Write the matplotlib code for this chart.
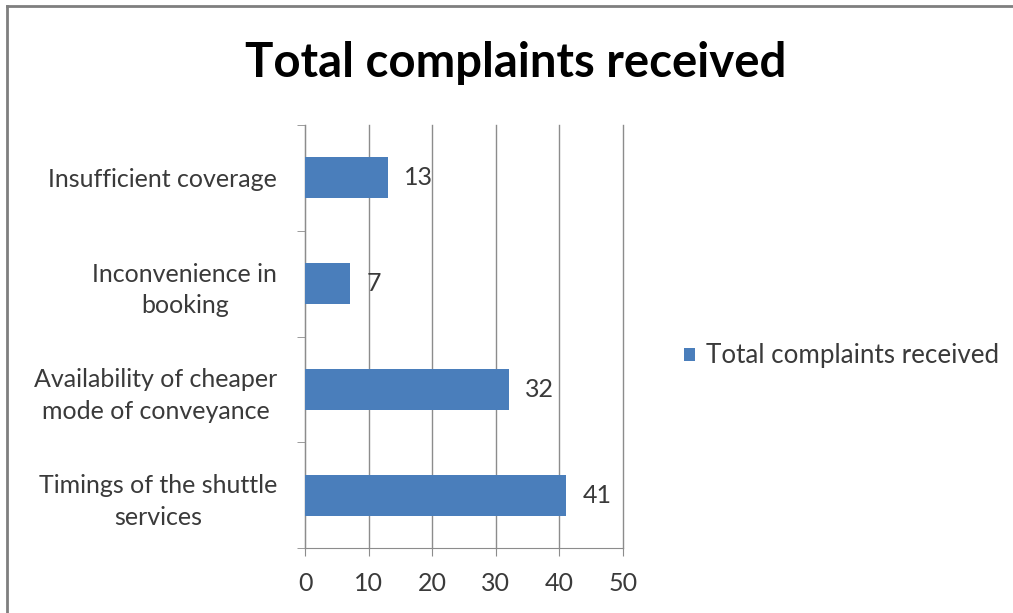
import matplotlib.pyplot as plt
from matplotlib.lines import Line2D

plt.rcParams['font.family'] = ['Lato', 'DejaVu Sans']

# bottom to top, as the bars are stacked on the y axis
categories = ['Timings of the shuttle\nservices',
              'Availability of cheaper\nmode of conveyance',
              'Inconvenience in\nbooking',
              'Insufficient coverage']
complaints = [41, 32, 7, 13]
series_name = 'Total complaints received'
x_ticks = [0, 10, 20, 30, 40, 50]

bar_color = '#4a7ebb'
grid_color = '#8c8c8c'
text_color = '#3a3a3a'


def main():
    fig = plt.figure(figsize=(10.13, 6.13), dpi=100)
    ax = fig.add_axes([305 / 1013, 1 - 548 / 613, 318 / 1013, 423 / 613])

    pos = list(range(len(categories)))
    bars = ax.barh(pos, complaints, height=0.39, color=bar_color,
                   label=series_name, zorder=3)

    for rect, v in zip(bars, complaints):
        ax.annotate(str(v), (rect.get_width(), rect.get_y() + rect.get_height() / 2),
                    xytext=(12, 0), textcoords='offset points',
                    va='center', ha='left', fontsize=18, color=text_color)

    ax.set_xlim(0, 50)
    ax.set_ylim(-0.5, len(categories) - 0.5)
    ax.set_xticks(x_ticks)
    ax.set_xticklabels([str(t) for t in x_ticks], fontsize=18, color=text_color)
    ax.set_yticks(pos)
    ax.set_yticklabels(categories, fontsize=18, color=text_color,
                       multialignment='center', linespacing=1.45)
    ax.set_yticks([p - 0.5 for p in pos] + [len(pos) - 0.5], minor=True)

    ax.tick_params(axis='y', which='major', length=0, pad=20)
    ax.tick_params(axis='y', which='minor', length=6, color=grid_color, direction='out')
    ax.tick_params(axis='x', length=6, color=grid_color, pad=11)

    ax.grid(axis='x', color=grid_color, linewidth=1, zorder=0)
    for gl in ax.get_xgridlines():
        gl.set_clip_on(False)
    for side in ('top', 'right'):
        ax.spines[side].set_visible(False)
    for side in ('left', 'bottom'):
        ax.spines[side].set_color(grid_color)

    fig.text(516 / 1013, 1 - 63 / 613, series_name, ha='center', va='center',
             fontsize=34, fontweight='bold', color='black')

    fig.legend(loc='center left', bbox_to_anchor=(661 / 1013, 1 - 356 / 613),
               frameon=False, fontsize=18.7, handlelength=0.42, handleheight=0.42,
               handletextpad=0.4, labelcolor=text_color)

    # chart frame, only its top and left edges fall inside the image
    fig.add_artist(Line2D([7 / 1013, 7 / 1013], [0, 1 - 6 / 613],
                          transform=fig.transFigure, color='#7f7f7f', linewidth=2))
    fig.add_artist(Line2D([7 / 1013, 1], [1 - 6 / 613, 1 - 6 / 613],
                          transform=fig.transFigure, color='#7f7f7f', linewidth=2))

    fig.savefig('out.png', dpi=100, facecolor='white')


if __name__ == "__main__":
    main()
